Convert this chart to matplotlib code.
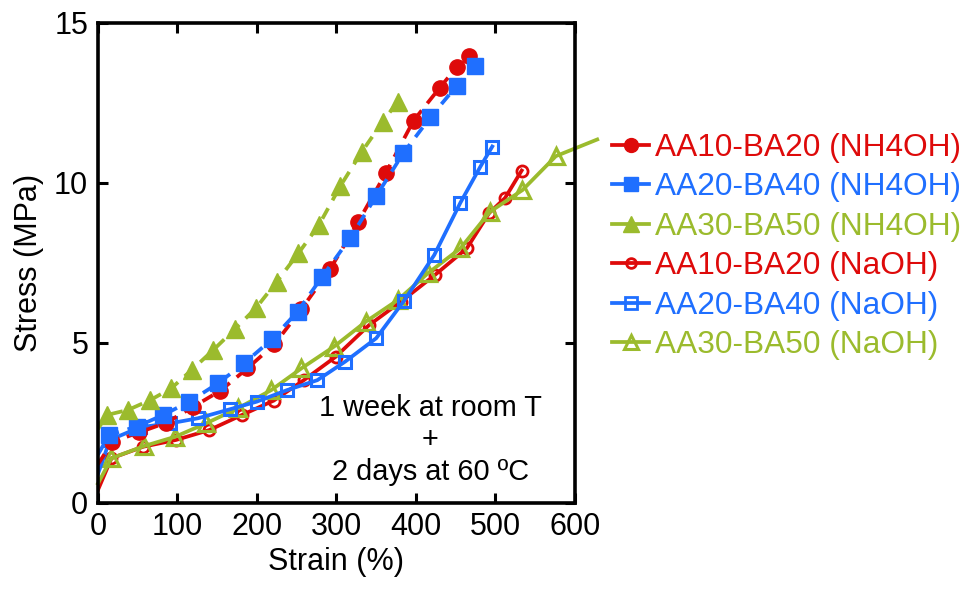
import matplotlib
matplotlib.use("Agg")
import matplotlib.pyplot as plt
from matplotlib.lines import Line2D

plt.rcParams['font.family'] = ['Liberation Sans', 'DejaVu Sans']

RED = '#DE0A0A'
BLUE = '#1F6FFF'
GREEN = '#9BBB2D'

# NH4OH samples (dashed, filled markers); first point is the unmarked start of the curve
aa10_nh4_x = [0, 18, 52, 86, 120, 154, 188, 222, 256, 292, 327, 362, 397, 430, 451, 467]
aa10_nh4_y = [1.2, 1.9, 2.2, 2.5, 3.0, 3.5, 4.2, 4.95, 6.05, 7.3, 8.76, 10.3, 11.94, 12.97, 13.6, 13.96]

aa20_nh4_x = [0, 14, 49, 82, 115, 151, 184, 219, 251, 282, 317, 350, 384, 418, 451, 474]
aa20_nh4_y = [1.5, 2.12, 2.38, 2.74, 3.16, 3.73, 4.36, 5.11, 5.97, 7.06, 8.26, 9.58, 10.92, 12.04, 13.02, 13.66]

aa30_nh4_x = [0, 11, 38, 66, 92, 118, 145, 172, 199, 225, 252, 278, 305, 332, 358, 377]
aa30_nh4_y = [2.3, 2.74, 2.9, 3.21, 3.57, 4.15, 4.77, 5.42, 6.09, 6.91, 7.79, 8.68, 9.9, 10.97, 11.9, 12.53]

# NaOH samples (solid, open markers)
aa10_na_x = [0, 17, 57, 98, 140, 181, 221, 259, 299, 341, 381, 424, 464, 492, 512, 533]
aa10_na_y = [0.4, 1.39, 1.75, 1.96, 2.27, 2.74, 3.19, 3.83, 4.56, 5.55, 6.28, 7.12, 7.95, 9.05, 9.52, 10.38]

aa20_na_x = [0, 15, 53, 91, 126, 166, 200, 238, 276, 311, 350, 385, 423, 456, 481, 496]
aa20_na_y = [0.9, 1.96, 2.36, 2.48, 2.64, 2.92, 3.16, 3.52, 3.83, 4.41, 5.14, 6.31, 7.74, 9.38, 10.5, 11.13]

aa30_na_x = [0, 17, 58, 97, 136, 176, 218, 256, 297, 337, 377, 415, 456, 493, 534, 576, 628]
aa30_na_y = [0.6, 1.39, 1.77, 2.06, 2.48, 2.95, 3.52, 4.2, 4.88, 5.66, 6.33, 7.17, 7.95, 9.09, 9.77, 10.83, 11.35]

labels = ['AA10-BA20 (NH4OH)', 'AA20-BA40 (NH4OH)', 'AA30-BA50 (NH4OH)',
          'AA10-BA20 (NaOH)', 'AA20-BA40 (NaOH)', 'AA30-BA50 (NaOH)']

fig = plt.figure(figsize=(9.66, 5.89), dpi=100)
ax = fig.add_axes([0.1014, 0.1465, 0.4938, 0.815])

lw = 2.7
dash = (0, (3.2, 2.4))

# NaOH curves first, NH4OH on top
ax.plot(aa10_na_x, aa10_na_y, color=RED, lw=lw, marker='o', ms=8, mfc='none', mew=2,
        markevery=list(range(1, len(aa10_na_x))))
ax.plot(aa30_na_x, aa30_na_y, color=GREEN, lw=lw, marker='^', ms=11, mfc='none', mew=2.3,
        markevery=list(range(1, len(aa30_na_x) - 1)), clip_on=False)
ax.plot(aa20_na_x, aa20_na_y, color=BLUE, lw=lw, marker='s', ms=9, mfc='none', mew=2.2,
        markevery=list(range(1, len(aa20_na_x))))

ax.plot(aa10_nh4_x, aa10_nh4_y, color=RED, lw=lw, ls=dash, marker='o', ms=11,
        markevery=list(range(1, len(aa10_nh4_x))))
ax.plot(aa20_nh4_x, aa20_nh4_y, color=BLUE, lw=lw, ls=dash, marker='s', ms=12,
        markevery=list(range(1, len(aa20_nh4_x))))
ax.plot(aa30_nh4_x, aa30_nh4_y, color=GREEN, lw=lw, ls=dash, marker='^', ms=13,
        markevery=list(range(1, len(aa30_nh4_x))))

ax.set_xlim(0, 600)
ax.set_ylim(0, 15)
ax.set_xticks([0, 100, 200, 300, 400, 500, 600])
ax.set_yticks([0, 5, 10, 15])
ax.tick_params(direction='in', length=7, width=2.2, labelsize=22, top=True, right=True, pad=7)
for s in ax.spines.values():
    s.set_linewidth(2.6)
ax.set_xlabel('Strain (%)', fontsize=22, labelpad=3)
ax.set_ylabel('Stress (MPa)', fontsize=22, labelpad=7)

ax.text(418, 1.96, '1 week at room T\n+\n2 days at 60 ºC', ha='center', va='center',
        fontsize=20.8, linespacing=1.2)

# legend: solid lines for every entry
handles = [
    Line2D([], [], color=RED, lw=lw, marker='o', ms=10),
    Line2D([], [], color=BLUE, lw=lw, marker='s', ms=10),
    Line2D([], [], color=GREEN, lw=lw, marker='^', ms=11),
    Line2D([], [], color=RED, lw=lw, marker='o', ms=7, mfc='none', mew=2),
    Line2D([], [], color=BLUE, lw=lw, marker='s', ms=8, mfc='none', mew=2),
    Line2D([], [], color=GREEN, lw=lw, marker='^', ms=10, mfc='none', mew=2.2),
]
leg = fig.legend(handles, labels, loc='center left', bbox_to_anchor=(0.634, 0.5815),
                 frameon=False, fontsize=22.8, handlelength=1.15, handletextpad=0.2,
                 labelspacing=0.3, borderpad=0, borderaxespad=0)
for t, c in zip(leg.get_texts(), [RED, BLUE, GREEN, RED, BLUE, GREEN]):
    t.set_color(c)

fig.savefig('out.png', dpi=100)
